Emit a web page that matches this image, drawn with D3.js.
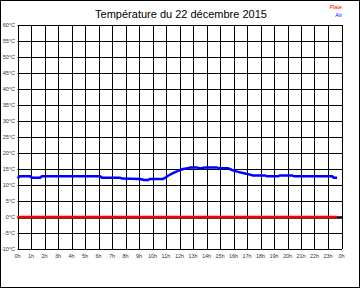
<!DOCTYPE html>
<html><head><meta charset="utf-8">
<script src="https://cdn.jsdelivr.net/npm/d3@7"></script>
<style>body{margin:0;background:#fff}svg{display:block}</style>
</head><body>
<script>
const title = "Température du 22 décembre 2015";
const yTicks = [60,55,50,45,40,35,30,25,20,15,10,5,0,-5,-10];
const xTicks = d3.range(0,25);
const xTickLabels = xTicks.map(h => (h % 24) + "h");
const seriesNames = ["Plate","Air"];
const seriesColors = ["#ff0000","#0000ff"];
const plateHours = [0, 23.67];
const plateTemps = [0, 0];
const airHours = [0,0.19,0.93,1.07,1.67,1.81,6.11,6.26,7.59,7.74,9.07,9.37,9.67,9.81,10.78,11.0,11.15,11.52,11.89,12.26,12.63,12.78,13.3,13.5,13.9,14.78,14.93,15.6,15.9,16.33,16.7,17.07,17.44,18.33,18.48,19.3,19.44,20.33,20.48,23.3,23.44,23.67];
const airTemps = [12.1,12.7,12.7,12.3,12.3,12.7,12.7,12.3,12.3,12.0,11.9,11.6,11.6,11.9,11.9,12.4,12.9,13.7,14.4,15.0,15.2,15.5,15.5,15.2,15.5,15.5,15.2,15.2,14.7,14.1,13.75,13.4,13.0,13.0,12.7,12.7,13.0,13.0,12.7,12.7,12.3,12.3];

const W = 360, H = 288;
const svg = d3.select("body").append("svg").attr("width", W).attr("height", H);
svg.append("rect").attr("x",0.5).attr("y",0.5).attr("width",W-1).attr("height",H-1)
  .attr("fill","#fff").attr("stroke","#000").attr("stroke-width",1);

const x = d3.scaleLinear().domain([0,24]).range([17.5,341.5]);
const y = d3.scaleLinear().domain([-10,60]).range([249,25]);

const g = svg.append("g");
g.selectAll("line.v").data(xTicks).join("line").attr("class","v")
  .attr("x1", d => Math.round(x(d))+0.5).attr("x2", d => Math.round(x(d))+0.5)
  .attr("y1", y(60)).attr("y2", y(-10)).attr("stroke","#000").attr("stroke-width",1);
g.selectAll("line.h").data(yTicks).join("line").attr("class","h")
  .attr("x1", x(0)).attr("x2", x(24)+0.5)
  .attr("y1", d => Math.round(y(d))+0.5).attr("y2", d => Math.round(y(d))+0.5)
  .attr("stroke","#000").attr("stroke-width", d => d===0 ? 2.5 : 1);

g.selectAll("text.yl").data(yTicks).join("text").attr("class","yl")
  .attr("x", 15).attr("y", d => y(d)+2)
  .attr("text-anchor","end").attr("font-family","Liberation Sans, Arial, sans-serif")
  .attr("font-size",5.5).attr("fill","#333").text(d => d + "°C");
g.selectAll("text.xl").data(xTicks).join("text").attr("class","xl")
  .attr("x", d => x(d)).attr("y", 258)
  .attr("text-anchor","middle").attr("font-family","Liberation Sans, Arial, sans-serif")
  .attr("font-size",5.5).attr("fill","#333").text((d,i) => xTickLabels[i]);

const line = d3.line().x(d => x(d[0])).y(d => y(d[1]));
svg.append("path").datum(d3.zip(plateHours, plateTemps)).attr("d", line)
  .attr("fill","none").attr("stroke",seriesColors[0]).attr("stroke-width",2.5);
svg.append("path").datum(d3.zip(airHours, airTemps)).attr("d", line)
  .attr("fill","none").attr("stroke",seriesColors[1]).attr("stroke-width",2.5);

svg.append("text").attr("x",181).attr("y",18).attr("text-anchor","middle")
  .attr("font-family","Liberation Sans, Arial, sans-serif").attr("font-size",11)
  .attr("fill","#000").text(title);

svg.selectAll("text.lg").data(seriesNames).join("text").attr("class","lg")
  .attr("x",342).attr("y",(d,i) => 9 + i*8).attr("text-anchor","end")
  .attr("font-family","Liberation Sans, Arial, sans-serif").attr("font-size",5.5)
  .attr("fill",(d,i) => seriesColors[i]).text(d => d);
</script>
</body></html>
